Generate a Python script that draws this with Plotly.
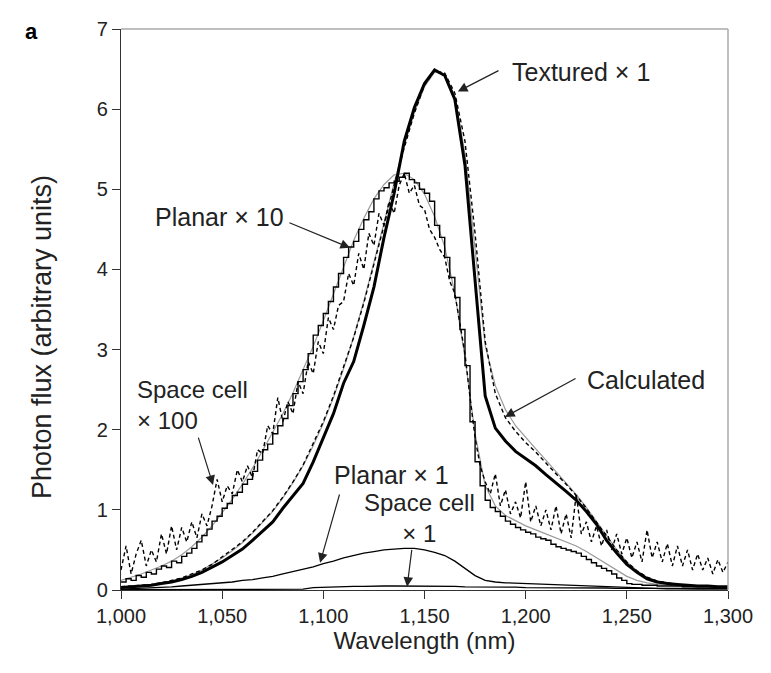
import plotly.graph_objects as go

# ---------------- data ----------------
# 5-nm grid for smooth curves, 2.5-nm grid for noisy measured curves
wl5_start, wl5_step = 1000, 5
wl25_start, wl25_step = 1000, 2.5

textured_x1 = [0.03, 0.04, 0.05, 0.06, 0.08, 0.10, 0.13, 0.17, 0.22, 0.28,
               0.35, 0.43, 0.51, 0.62, 0.74, 0.85, 1.02, 1.18, 1.33, 1.60,
               1.90, 2.20, 2.58, 2.85, 3.30, 3.78, 4.40, 4.95, 5.60, 6.02,
               6.32, 6.49, 6.42, 6.12, 5.30, 3.85, 2.42, 2.02, 1.86, 1.73,
               1.64, 1.55, 1.44, 1.34, 1.23, 1.12, 0.98, 0.82, 0.62, 0.46,
               0.32, 0.22, 0.14, 0.10, 0.08, 0.07, 0.06, 0.05, 0.05, 0.04,
               0.04]

textured_dashed = [0.04, 0.05, 0.06, 0.07, 0.09, 0.12, 0.15, 0.20, 0.25, 0.32,
                   0.41, 0.50, 0.60, 0.72, 0.85, 0.99, 1.16, 1.35, 1.56, 1.82,
                   2.10, 2.42, 2.78, 3.15, 3.58, 4.05, 4.55, 5.05, 5.52, 5.95,
                   6.30, 6.48, 6.45, 6.20, 5.60, 4.45, 3.10, 2.45, 2.15, 1.98,
                   1.84, 1.72, 1.58, 1.45, 1.32, 1.18, 1.02, 0.85, 0.67, 0.50,
                   0.35, 0.24, 0.16, 0.11, 0.09, 0.07, 0.06, 0.05, 0.05, 0.04,
                   0.04]

textured_calc = [0.03, 0.04, 0.05, 0.07, 0.09, 0.11, 0.15, 0.19, 0.25, 0.32,
                 0.40, 0.49, 0.59, 0.71, 0.84, 0.98, 1.15, 1.34, 1.55, 1.80,
                 2.08, 2.40, 2.76, 3.16, 3.60, 4.08, 4.58, 5.08, 5.55, 5.96,
                 6.28, 6.46, 6.44, 6.15, 5.45, 4.25, 3.05, 2.55, 2.25, 2.05,
                 1.90, 1.76, 1.62, 1.48, 1.34, 1.19, 1.03, 0.86, 0.68, 0.50,
                 0.35, 0.24, 0.16, 0.11, 0.08, 0.07, 0.06, 0.05, 0.05, 0.04,
                 0.04]

planar_calc = [0.12, 0.16, 0.20, 0.25, 0.30, 0.36, 0.44, 0.54, 0.66, 0.80,
               0.96, 1.13, 1.32, 1.52, 1.74, 1.97, 2.20, 2.46, 2.74, 3.04,
               3.36, 3.70, 4.04, 4.36, 4.64, 4.88, 5.06, 5.18, 5.20, 5.12,
               4.94, 4.66, 4.28, 3.70, 2.90, 1.95, 1.30, 1.05, 0.93, 0.86,
               0.80, 0.75, 0.70, 0.65, 0.60, 0.55, 0.48, 0.40, 0.32, 0.24,
               0.17, 0.12, 0.09, 0.07, 0.06, 0.05, 0.05, 0.04, 0.04, 0.04,
               0.04]

planar_x1 = [0.01, 0.015, 0.02, 0.025, 0.03, 0.04, 0.05, 0.06, 0.07, 0.08,
             0.09, 0.10, 0.12, 0.13, 0.15, 0.17, 0.20, 0.23, 0.26, 0.29,
             0.33, 0.36, 0.40, 0.43, 0.46, 0.48, 0.50, 0.51, 0.52, 0.52,
             0.50, 0.47, 0.43, 0.36, 0.27, 0.18, 0.12, 0.10, 0.09, 0.085,
             0.08, 0.075, 0.07, 0.065, 0.06, 0.055, 0.05, 0.045, 0.04, 0.035,
             0.03, 0.025, 0.02, 0.02, 0.015, 0.015, 0.01, 0.01, 0.01, 0.01,
             0.01]

spacecell_x1 = [0.005, 0.005, 0.005, 0.005, 0.005, 0.005, 0.008, 0.008, 0.008, 0.01,
                0.01, 0.01, 0.01, 0.01, 0.01, 0.01, 0.01, 0.01, 0.01, 0.03,
                0.035, 0.04, 0.04, 0.045, 0.045, 0.05, 0.05, 0.05, 0.05, 0.05,
                0.05, 0.05, 0.045, 0.045, 0.04, 0.04, 0.04, 0.035, 0.035, 0.035,
                0.03, 0.03, 0.03, 0.03, 0.03, 0.025, 0.025, 0.025, 0.025, 0.02,
                0.02, 0.02, 0.02, 0.02, 0.02, 0.02, 0.02, 0.02, 0.02, 0.02,
                0.02]

planar_x10 = [0.10, 0.14, 0.12, 0.18, 0.16, 0.22, 0.20, 0.26, 0.30, 0.28,
              0.36, 0.34, 0.42, 0.46, 0.52, 0.60, 0.68, 0.76, 0.86, 0.92,
              1.02, 1.08, 1.18, 1.22, 1.32, 1.38, 1.48, 1.62, 1.75, 1.82,
              1.95, 2.05, 2.14, 2.30, 2.45, 2.60, 2.75, 2.95, 3.18, 3.30,
              3.45, 3.60, 3.78, 3.95, 4.15, 4.28, 4.35, 4.50, 4.62, 4.72,
              4.88, 4.98, 5.02, 5.08, 5.10, 5.15, 5.20, 5.12, 5.08, 5.00,
              4.95, 4.85, 4.55, 4.40, 4.15, 3.90, 3.65, 3.25, 2.80, 2.10,
              1.60, 1.30, 1.12, 1.03, 0.98, 0.92, 0.86, 0.82, 0.78, 0.75,
              0.72, 0.70, 0.66, 0.64, 0.62, 0.57, 0.54, 0.52, 0.50, 0.48,
              0.46, 0.42, 0.38, 0.34, 0.30, 0.27, 0.24, 0.20, 0.15, 0.12,
              0.08, 0.07, 0.07, 0.06, 0.06, 0.06, 0.05, 0.05, 0.05, 0.05,
              0.05, 0.04, 0.04, 0.04, 0.04, 0.04, 0.04, 0.04, 0.04, 0.04,
              0.04]

spacecell_x100 = [0.25, 0.55, 0.20, 0.45, 0.62, 0.30, 0.50, 0.35, 0.70, 0.45,
                  0.80, 0.50, 0.78, 0.60, 0.85, 0.65, 0.95, 0.80, 1.05, 1.38,
                  1.10, 1.30, 1.20, 1.50, 1.35, 1.55, 1.40, 1.75, 1.70, 2.05,
                  1.95, 2.40, 2.10, 2.35, 2.20, 2.60, 2.45, 2.85, 2.70, 3.10,
                  2.95, 3.40, 3.25, 3.55, 3.60, 3.95, 3.80, 4.20, 4.00, 4.45,
                  4.30, 4.70, 4.55, 4.85, 4.70, 5.05, 5.20, 4.95, 5.05, 4.80,
                  4.75, 4.50, 4.40, 4.25, 4.15, 3.85, 3.70, 3.30, 2.95, 2.40,
                  1.90, 1.55, 1.35, 1.20, 1.45, 1.05, 1.25, 0.95, 1.10, 0.90,
                  1.35, 0.85, 1.05, 0.80, 1.00, 0.75, 1.05, 0.70, 0.95, 0.65,
                  1.20, 0.70, 0.85, 0.60, 0.80, 0.55, 0.75, 0.50, 0.70, 0.45,
                  0.65, 0.40, 0.60, 0.35, 0.75, 0.40, 0.60, 0.35, 0.58, 0.30,
                  0.55, 0.30, 0.50, 0.25, 0.45, 0.25, 0.40, 0.20, 0.38, 0.22,
                  0.35]

x_tickvals = [1000, 1050, 1100, 1150, 1200, 1250, 1300]
x_ticktext = ["1,000", "1,050", "1,100", "1,150", "1,200", "1,250", "1,300"]
y_tickvals = [0, 1, 2, 3, 4, 5, 6, 7]


def grid(start, step, values):
    return [start + step * i for i in range(len(values))]


FONT = "Liberation Sans, Arial, Helvetica, sans-serif"
TXT = "#222222"
GRAY = "#9a9a9a"

fig = go.Figure()

# calculated curves (thin gray)
fig.add_trace(go.Scatter(x=grid(wl5_start, wl5_step, planar_calc), y=planar_calc,
                         mode="lines", line=dict(color=GRAY, width=1.2)))
fig.add_trace(go.Scatter(x=grid(wl5_start, wl5_step, textured_calc), y=textured_calc,
                         mode="lines", line=dict(color=GRAY, width=1.2)))

# noisy dashed space cell x100
fig.add_trace(go.Scatter(x=grid(wl25_start, wl25_step, spacecell_x100), y=spacecell_x100,
                         mode="lines", line=dict(color="black", width=1.4, dash="4px,3px")))
# noisy solid planar x10
fig.add_trace(go.Scatter(x=grid(wl25_start, wl25_step, planar_x10), y=planar_x10,
                         mode="lines", line=dict(color="black", width=1.4, shape="hv")))
# textured dashed
fig.add_trace(go.Scatter(x=grid(wl5_start, wl5_step, textured_dashed), y=textured_dashed,
                         mode="lines", line=dict(color="black", width=1.4, dash="4px,3px")))
# textured x1 thick
fig.add_trace(go.Scatter(x=grid(wl5_start, wl5_step, textured_x1), y=textured_x1,
                         mode="lines", line=dict(color="black", width=3)))
# planar x1 and space cell x1
fig.add_trace(go.Scatter(x=grid(wl5_start, wl5_step, planar_x1), y=planar_x1,
                         mode="lines", line=dict(color="black", width=1.3)))
fig.add_trace(go.Scatter(x=grid(wl5_start, wl5_step, spacecell_x1), y=spacecell_x1,
                         mode="lines", line=dict(color="black", width=1.3)))

# annotations: texts
labels = [
    ("Textured × 1", 1192.3, 6.46, "left", 25),
    ("Planar × 10", 1015.8, 4.65, "left", 25),
    ("Space cell<br>× 100", 1006.9, 2.31, "left", 24),
    ("Calculated", 1229.3, 2.62, "left", 25),
    ("Planar × 1", 1104.3, 1.435, "left", 25),
]
for txt, lx, ly, anchor, fs in labels:
    fig.add_annotation(x=lx, y=ly, text=txt, showarrow=False, xanchor=anchor, align="left",
                       yanchor="middle", font=dict(family=FONT, size=fs, color=TXT))
# "Space cell / × 1" (second line centred)
fig.add_annotation(x=1147.3, y=0.90, text="Space cell<br>× 1", showarrow=False,
                   xanchor="center", align="center", yanchor="middle",
                   font=dict(family=FONT, size=24, color=TXT))

# arrows (tail -> tip)
arrows = [
    (1187.3, 6.49, 1166.5, 6.22),
    (1082.5, 4.59, 1113.2, 4.27),
    (1038.0, 1.92, 1045.5, 1.31),
    (1225.4, 2.65, 1189.8, 2.16),
    (1108.2, 1.21, 1098.4, 0.34),
    (1143.8, 0.52, 1141.4, 0.04),
]
for tx, ty, hx, hy in arrows:
    fig.add_annotation(x=hx, y=hy, ax=tx, ay=ty, xref="x", yref="y", axref="x", ayref="y",
                       text="", showarrow=True, arrowhead=2, arrowsize=1.6, arrowwidth=1.2,
                       arrowcolor="#222222", standoff=0)

# y-axis title (placed as in the reference, slightly below plot centre)
fig.add_annotation(x=-0.130, y=(590 - 337) / 561, xref="paper", yref="paper",
                   text="Photon flux (arbitrary units)", textangle=-90, showarrow=False,
                   xanchor="center", yanchor="middle",
                   font=dict(family=FONT, size=27, color=TXT))

# panel letter
fig.add_annotation(x=-0.1614, y=1.0214, xref="paper", yref="paper", text="<b>a</b>",
                   showarrow=False, font=dict(family=FONT, size=22, color="black"))

# gray top/right frame
fig.add_shape(type="line", xref="paper", yref="paper", x0=0, x1=1, y0=1, y1=1,
              line=dict(color="#aaaaaa", width=1.5))
fig.add_shape(type="line", xref="paper", yref="paper", x0=1, x1=1, y0=0, y1=1,
              line=dict(color="#aaaaaa", width=1.5))

fig.update_layout(
    width=771, height=673,
    margin=dict(l=121, r=43, t=29, b=83),
    paper_bgcolor="white", plot_bgcolor="white",
    showlegend=False,
    font=dict(family=FONT, color=TXT),
    xaxis=dict(range=[1000, 1300], tickvals=x_tickvals, ticktext=x_ticktext,
               showgrid=False, zeroline=False, showline=True, linecolor="#333333", linewidth=1.3,
               ticks="outside", ticklen=8, tickcolor="#333333", tickwidth=1.3,
               tickfont=dict(family=FONT, size=20, color=TXT),
               title=dict(text="Wavelength (nm)", font=dict(family=FONT, size=24, color=TXT), standoff=6)),
    yaxis=dict(range=[0, 7], tickvals=y_tickvals,
               showgrid=False, zeroline=False, showline=True, linecolor="#333333", linewidth=1.3,
               ticks="outside", ticklen=8, tickcolor="#333333", tickwidth=1.3,
               tickfont=dict(family=FONT, size=20, color=TXT)),
)

fig.write_html("out.html")
